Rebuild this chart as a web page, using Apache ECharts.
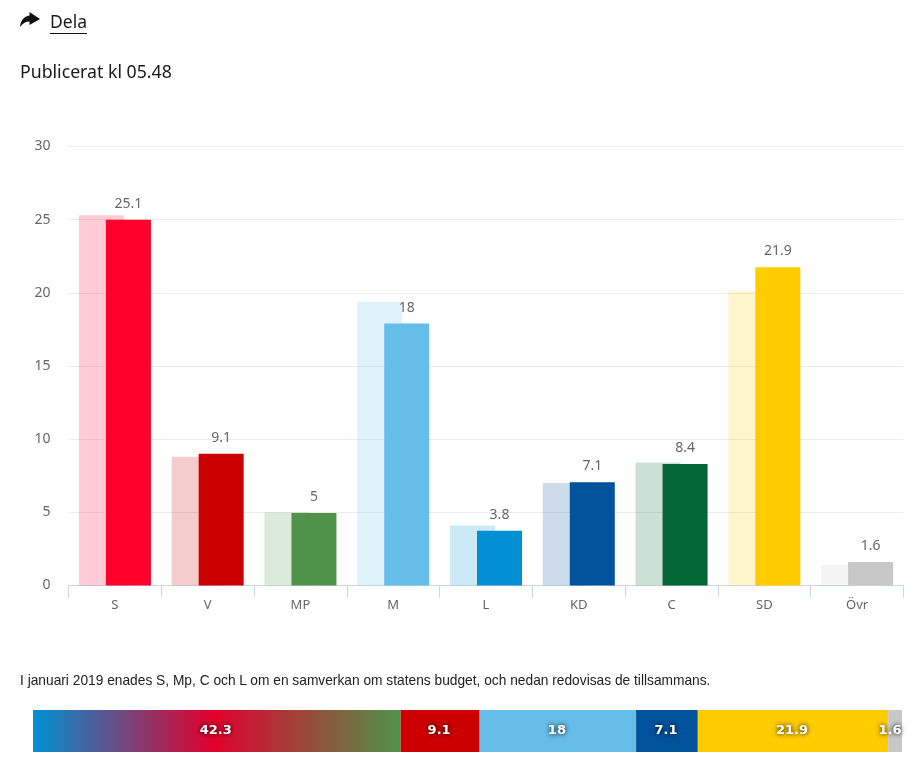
<!DOCTYPE html>
<html>
<head>
<meta charset="utf-8">
<title>Dela</title>
<script src="https://cdn.jsdelivr.net/npm/echarts@6/dist/echarts.min.js"></script>
<style>
  html, body { margin: 0; padding: 0; background: #fff; overflow: hidden; }
  #chart { position: absolute; left: 0; top: 0; width: 923px; height: 759px; }
  .txt { position: absolute; white-space: nowrap; color: #1a1a1a; font-family: "Noto Sans", sans-serif; }
  #icon { position: absolute; left: 20px; top: 12px; }
</style>
</head>
<body>
<div id="chart"></div>
<svg id="icon" width="20" height="16" viewBox="0 0 20 16"><path d="M9.5 0 L20 7 L9.5 13 L9.5 9.5 C5.5 9.5 2.5 11.5 0 15 C0.5 9 4 4 9.5 3.5 Z" fill="#111"/></svg>
<div class="txt" style="left:50px;top:9px;font-size:17.5px;line-height:24px;border-bottom:1px solid #111">Dela</div>
<div class="txt" style="left:20px;top:59px;font-size:17.7px;line-height:24px">Publicerat kl 05.48</div>
<div class="txt" style="left:20px;top:673px;font-size:13.75px;line-height:16px;font-family:'Liberation Sans',sans-serif;color:#222">I januari 2019 enades S, Mp, C och L om en samverkan om statens budget, och nedan redovisas de tillsammans.</div>
<script>
var categories = ['S', 'V', 'MP', 'M', 'L', 'KD', 'C', 'SD', 'Övr'];
var previous = [25.3, 8.8, 5.0, 19.4, 4.1, 7.0, 8.4, 20.1, 1.4];
// bar tops as drawn in the picture, they sit a little under the printed numbers
var current = [25.0, 9.0, 4.95, 17.9, 3.75, 7.05, 8.3, 21.75, 1.6];
var currentLabels = ['25.1', '9.1', '5', '18', '3.8', '7.1', '8.4', '21.9', '1.6'];
var colors = ['#ff002b', '#cc0000', '#4f9449', '#65bde8', '#0090d3', '#00529c', '#006633', '#ffcc00', '#c8c8c8'];

var blocName = ['S+MP+C+L', 'V', 'M', 'KD', 'SD', 'Övr'];
var blocValues = [42.3, 9.1, 18, 7.1, 21.9, 1.6];
var blocColors = [null, '#cc0000', '#65bde8', '#00529c', '#ffcc00', '#c8c8c8'];

var blocGradient = new echarts.graphic.LinearGradient(0, 0, 1, 0, [
  {offset: 0, color: '#0090d3'},
  {offset: 0.49, color: '#e2002c'},
  {offset: 1, color: '#4f9449'}
]);

var textColor = '#666';
var labelFont = '"Noto Sans", sans-serif';

var backData = [];
var frontData = [];
for (var i = 0; i < categories.length; i++) {
  backData.push({value: previous[i], itemStyle: {color: colors[i], opacity: 0.2}});
  frontData.push({value: current[i], itemStyle: {color: colors[i]}});
}

var series = [
  {
    name: 'Förra valet',
    type: 'bar',
    xAxisIndex: 0,
    yAxisIndex: 0,
    barWidth: 45,
    barGap: '-40%',
    animation: false,
    data: backData
  },
  {
    name: 'Valet',
    type: 'bar',
    xAxisIndex: 0,
    yAxisIndex: 0,
    barWidth: 45,
    animation: false,
    data: frontData,
    label: {
      show: true,
      position: 'top',
      distance: 9,
      color: textColor,
      fontFamily: labelFont,
      fontSize: 14,
      formatter: function (p) { return currentLabels[p.dataIndex]; }
    }
  }
];

for (var j = 0; j < blocValues.length; j++) {
  series.push({
    name: blocName[j],
    type: 'bar',
    stack: 'bloc',
    xAxisIndex: 1,
    yAxisIndex: 1,
    barWidth: 42,
    animation: false,
    data: [blocValues[j]],
    itemStyle: {color: blocColors[j] || blocGradient},
    label: {
      show: true,
      position: 'inside',
      offset: j === blocValues.length - 1 ? [-5, 0] : [-1, 0],
      color: '#fff',
      fontFamily: '"DejaVu Sans", sans-serif',
      fontWeight: 'bold',
      fontSize: 13,
      textShadowColor: '#000',
      textShadowBlur: 5,
      formatter: '{c}'
    }
  });
}

var chart = echarts.init(document.getElementById('chart'), null, {renderer: 'canvas'});
chart.setOption({
  backgroundColor: '#fff',
  animation: false,
  grid: [
    {left: 68.5, right: 19.5, top: 146.5, height: 439},
    {left: 33, width: 869, top: 710, height: 42}
  ],
  xAxis: [
    {
      type: 'category',
      gridIndex: 0,
      data: categories,
      axisLine: {lineStyle: {color: '#ccd6eb', width: 1}},
      axisTick: {show: true, length: 12, alignWithLabel: false, lineStyle: {color: '#ccd6eb'}},
      axisLabel: {color: textColor, fontFamily: labelFont, fontSize: 13, margin: 13, interval: 0}
    },
    {
      type: 'value',
      gridIndex: 1,
      min: 0,
      max: 100,
      show: false
    }
  ],
  yAxis: [
    {
      type: 'value',
      gridIndex: 0,
      min: 0,
      max: 30,
      interval: 5,
      axisLine: {show: false},
      axisTick: {show: false},
      axisLabel: {color: textColor, fontFamily: labelFont, fontSize: 14, margin: 18},
      splitLine: {lineStyle: {color: '#ebebeb', width: 1}}
    },
    {
      type: 'category',
      gridIndex: 1,
      data: ['Block'],
      show: false
    }
  ],
  series: series
});
</script>
</body>
</html>
